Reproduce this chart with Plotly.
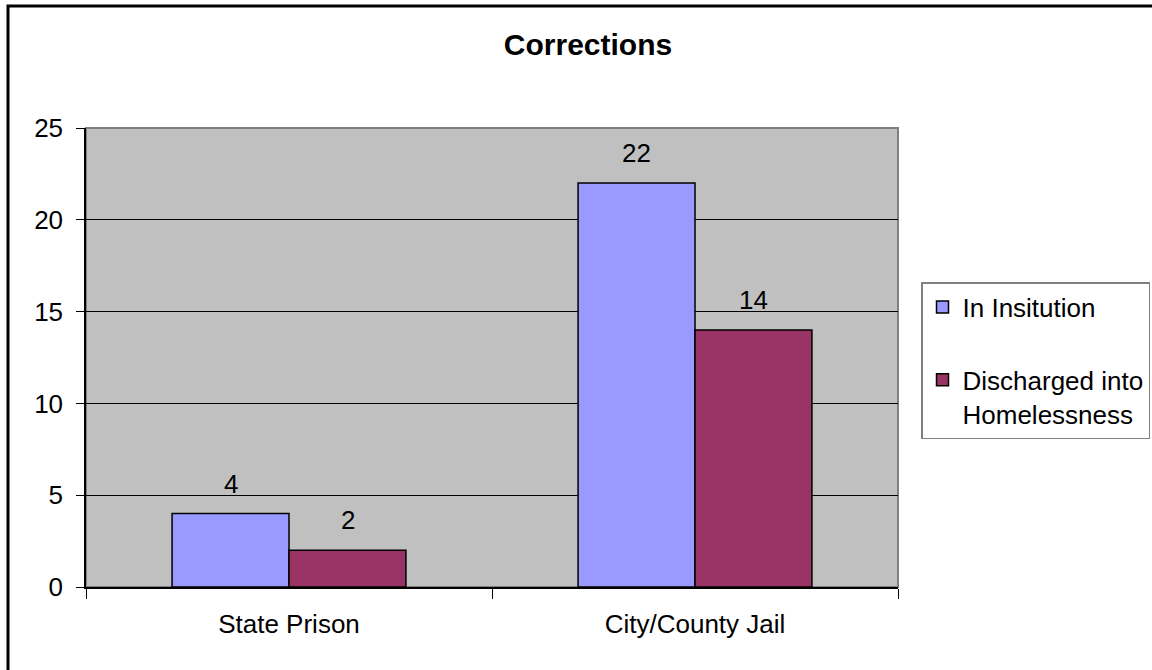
import plotly.graph_objects as go

categories = ["State Prison", "City/County Jail"]
in_institution = [4, 22]
discharged = [2, 14]
series_names = ["In Insitution", "Discharged into<br>Homelessness"]
y_ticks = [0, 5, 10, 15, 20, 25]
title_text = "Corrections"

FONT = "Liberation Sans, Arial, sans-serif"
W, H = 1152, 670
ML, MR, MT, MB = 86, 254, 128, 83
PW = W - ML - MR
PH = H - MT - MB

fig = go.Figure()
fig.add_trace(go.Bar(
    x=categories, y=in_institution, name=series_names[0],
    marker=dict(color="#9999FF", line=dict(color="black", width=1.5)),
    legendgroup="a", offsetgroup="a",
))
fig.add_trace(go.Bar(
    x=categories, y=discharged, name=series_names[1],
    marker=dict(color="#993366", line=dict(color="black", width=1.5)),
    legendgroup="b", offsetgroup="b",
))

# data labels above bars
bar_w = 0.2882
for vals, off in ((in_institution, -0.5), (discharged, 0.5)):
    for i, v in enumerate(vals):
        fig.add_annotation(
            x=i + off * bar_w, y=v, xref="x", yref="y",
            text=str(v), showarrow=False, yanchor="bottom", yshift=13,
            font=dict(family=FONT, size=26, color="black"),
        )

# plot area border (gray) and outer chart frame
fig.add_shape(type="rect", xref="paper", yref="paper", x0=0, x1=1, y0=0, y1=1,
              line=dict(color="#808080", width=2), layer="below")
fig.add_shape(type="rect", xref="paper", yref="paper",
              x0=(8 - ML) / PW, x1=1.6, y0=-0.5, y1=(MT + PH - 6) / PH,
              line=dict(color="black", width=3))

fig.update_layout(
    width=W, height=H,
    margin=dict(l=ML, r=MR, t=MT, b=MB, autoexpand=False),
    paper_bgcolor="white", plot_bgcolor="#C0C0C0",
    barmode="group", bargap=0.424, bargroupgap=0,
    font=dict(family=FONT, size=26, color="black"),
    title=dict(text="<b>" + title_text + "</b>", x=588 / W, xref="container",
               y=1 - 44 / H, yref="container", xanchor="center", yanchor="middle",
               font=dict(family=FONT, size=30, color="black")),
    showlegend=True,
    legend=dict(
        x=(921 - ML) / PW, y=(MT + PH - 282) / PH, xanchor="left", yanchor="top",
        bgcolor="white", bordercolor="#808080", borderwidth=1.5,
        font=dict(family=FONT, size=26, color="black"),
        traceorder="grouped", tracegroupgap=36, valign="top",
        itemwidth=30,
    ),
    xaxis=dict(
        type="category", showline=True, linecolor="black", linewidth=1.5,
        ticks="outside", tickson="boundaries", ticklen=10, tickcolor="black",
        showgrid=False, tickfont=dict(family=FONT, size=26),
        ticklabelstandoff=13,
    ),
    yaxis=dict(
        range=[0, 25], tickvals=y_ticks, showline=True, linecolor="black", linewidth=1.5,
        ticks="outside", ticklen=8, tickcolor="black",
        showgrid=True, gridcolor="black", gridwidth=1, zeroline=False,
        tickfont=dict(family=FONT, size=26), ticklabelstandoff=8,
    ),
)

fig.write_html("out.html", config={"displayModeBar": False},
               post_script="document.body.style.margin='0';")
